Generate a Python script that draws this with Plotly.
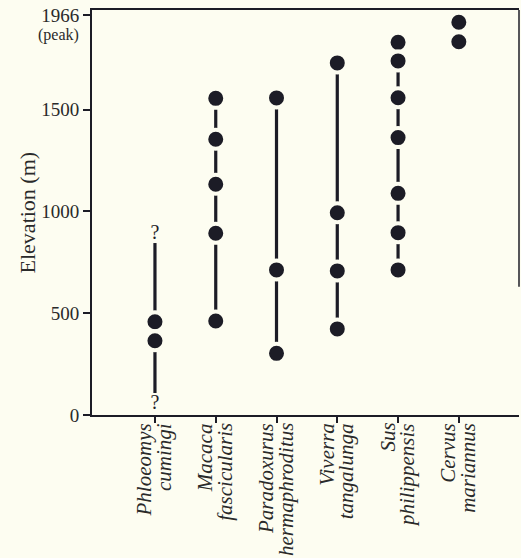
import plotly.graph_objects as go

# ---- data ----
species_genus = ["Phloeomys", "Macaca", "Paradoxurus", "Viverra", "Sus", "Cervus"]
species_epithet = ["cumingi", "fascicularis", "hermaphroditus", "tangalunga", "philippensis", "mariannus"]
records = [
    [458, 365],
    [1556, 1355, 1134, 893, 462],
    [1558, 713, 303],
    [1730, 994, 708, 423],
    [1831, 1740, 1559, 1363, 1089, 896, 713],
    [1930, 1834],
]
range_low = [108, 462, 303, 423, 713, None]
range_high = [845, 1556, 1558, 1730, 1740, None]
uncertain_species = [0, 0]
uncertain_elev = [890, 55]
y_tickvals = [0, 500, 1000, 1500, 1966]
y_ticktext = ["0", "500", "1000", "1500", "1966"]
peak = 1966

INK = "#1c1c26"
TXT = "#2a2a2a"
BG = "#fdfdf1"
FONT = "Liberation Serif, Times New Roman, serif"

fig = go.Figure()

# vertical range lines
lx, ly = [], []
for i, (lo, hi) in enumerate(zip(range_low, range_high)):
    if lo is None:
        continue
    lx += [i, i, None]
    ly += [lo, hi, None]
fig.add_trace(go.Scatter(x=lx, y=ly, mode="lines",
                         line=dict(color=INK, width=3.2), hoverinfo="skip", showlegend=False))

# dots
px, py = [], []
for i, vals in enumerate(records):
    for v in vals:
        px.append(i)
        py.append(v)
fig.add_trace(go.Scatter(x=px, y=py, mode="markers",
                         marker=dict(size=19, color=INK, line=dict(color=BG, width=4)),
                         showlegend=False))

# question marks
fig.add_trace(go.Scatter(x=uncertain_species, y=uncertain_elev, mode="text", text=["?", "?"],
                         textfont=dict(family=FONT, size=20, color=INK),
                         showlegend=False, hoverinfo="skip"))

annotations = [
    dict(text="Elevation (m)", textangle=-90, xref="paper", yref="paper",
         x=-0.15, y=0.5, xanchor="center", yanchor="middle", showarrow=False,
         font=dict(family=FONT, size=22, color=TXT)),
    dict(text="(peak)", xref="paper", yref="y", x=-0.025, y=peak, yshift=-20,
         xanchor="right", yanchor="middle", showarrow=False,
         font=dict(family=FONT, size=16, color=TXT)),
]
# two-line italic species labels, both lines ending just under the axis
for i, (g, e) in enumerate(zip(species_genus, species_epithet)):
    for name, shift in ((g, -11), (e, 9)):
        annotations.append(dict(
            text="<i>%s</i>" % name, textangle=-90, xref="x", yref="paper",
            x=i, y=0, xshift=shift, yshift=-7, xanchor="center", yanchor="top",
            showarrow=False, borderpad=0,
            font=dict(family=FONT, size=21, color=TXT)))

fig.update_layout(
    width=521, height=558,
    margin=dict(l=92, r=2, t=10, b=143),
    paper_bgcolor=BG, plot_bgcolor=BG,
    font=dict(family=FONT, color=TXT),
    xaxis=dict(
        range=[-1.036, 5.99],
        tickvals=list(range(len(species_genus))),
        ticktext=[""] * len(species_genus),
        ticks="outside", ticklen=6, tickwidth=1.5, tickcolor=INK,
        showline=True, linecolor=INK, linewidth=2, mirror=True,
        showgrid=False, zeroline=False,
    ),
    yaxis=dict(
        range=[0, 1990],
        tickvals=y_tickvals, ticktext=y_ticktext,
        ticks="outside", ticklen=7, tickwidth=1.5, tickcolor=INK,
        tickfont=dict(family=FONT, size=19, color=TXT),
        showline=True, linecolor=INK, linewidth=2,
        showgrid=False, zeroline=False,
    ),
    annotations=annotations,
    shapes=[
        dict(type="line", xref="paper", yref="y", x0=1, x1=1, y0=630, y1=1990,
             line=dict(color=INK, width=1.5)),
    ],
)

fig.write_html("out.html")
